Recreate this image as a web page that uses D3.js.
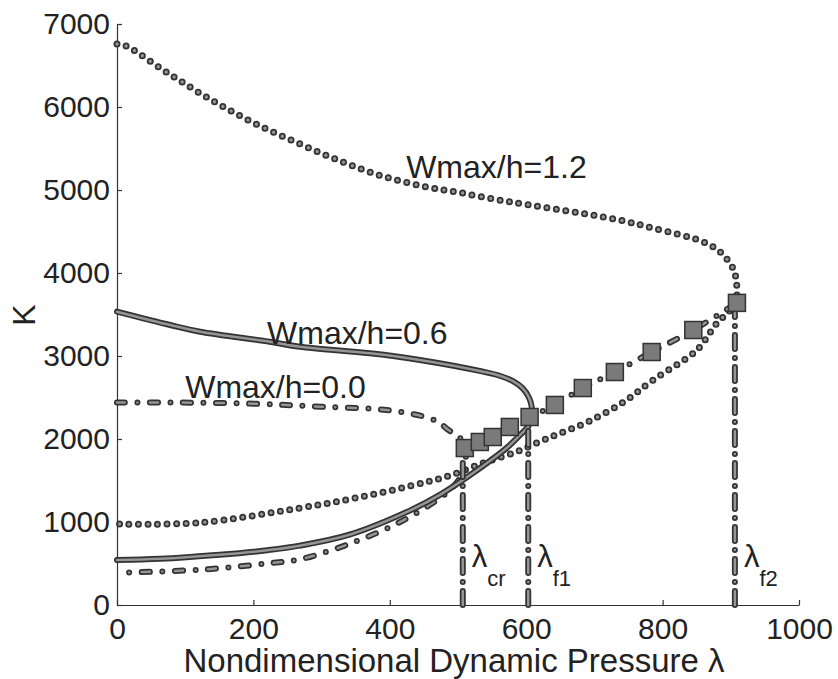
<!DOCTYPE html>
<html>
<head>
<meta charset="utf-8">
<script src="https://cdn.jsdelivr.net/npm/d3@7"></script>
<style>
  body { margin: 0; background: #fff; }
  text { font-family: "Liberation Sans", Arial, sans-serif; fill: #222; }
</style>
</head>
<body>
<svg id="chart"></svg>
<script>
const width = 838;
const height = 679;

// tick values
const xTicks = [0, 200, 400, 600, 800, 1000];
const yTicks = [0, 1000, 2000, 3000, 4000, 5000, 6000, 7000];

// Wmax/h = 1.2 (dotted)
const w12Upper = [[0, 6760], [12, 6740], [74, 6413], [136, 6096], [200, 5811], [266, 5563], [330, 5340],
  [390, 5165], [449, 5045], [498, 4976], [552, 4892], [605, 4819], [679, 4723], [737, 4638], [786, 4540],
  [859, 4377], [884, 4257], [903, 4060], [908, 3916], [909, 3700]];
const w12Lower = [[0, 975], [120, 992], [268, 1168], [350, 1290], [430, 1434], [488, 1560], [540, 1720],
  [586, 1847], [620, 1968], [650, 2070], [691, 2209], [740, 2430], [786, 2711], [850, 3070], [879, 3390],
  [898, 3540], [909, 3640]];

// Wmax/h = 0.6 (solid)
const w06Upper = [[0, 3534], [78, 3373], [122, 3293], [224, 3172], [268, 3112], [371, 3032], [444, 2952],
  [537, 2811], [560, 2765], [580, 2700], [595, 2610], [604, 2500], [608, 2390], [607, 2290]];
const w06Lower = [[0, 542], [63, 556], [150, 605], [220, 660], [268, 715], [342, 850], [430, 1140],
  [474, 1330], [522, 1590], [571, 1890], [596, 2090], [603, 2150]];

// Wmax/h = 0.0 (dash-dot)
const w00Upper = [[0, 2440], [78, 2440], [200, 2425], [298, 2389], [395, 2349], [459, 2249], [474, 2189],
  [486, 2108], [498, 2048], [510, 1948], [512, 1890]];
const w00Lower = [[0, 389], [122, 425], [220, 500], [268, 550], [342, 740], [415, 1000], [474, 1290],
  [490, 1400], [505, 1560], [510, 1700]];

// bifurcation points (squares)
const bifurcation = [[510, 1891], [532, 1964], [551, 2024], [576, 2145], [605, 2265], [642, 2410],
  [683, 2614], [730, 2807], [784, 3048], [845, 3313], [909, 3640]];

// critical pressures
const critNames = ["cr", "f1", "f2"];
const critLambda = [507, 603, 906];
const critTop = [1870, 2100, 3640];

// curve labels
const curveLabels = ["Wmax/h=1.2", "Wmax/h=0.6", "Wmax/h=0.0"];
const curveLabelPos = [[424, 5150], [220, 3150], [100, 2500]];

const svg = d3.select("#chart")
    .attr("width", width)
    .attr("height", height);

const x = d3.scaleLinear().domain([0, 1000]).range([117, 799]);
const y = d3.scaleLinear().domain([0, 7000]).range([605, 24]);

const line = d3.line()
    .x(d => x(d[0]))
    .y(d => y(d[1]))
    .curve(d3.curveCatmullRom.alpha(0.5));

// draws a line twice: dark outline then lighter core, like the scanned original
function drawStyled(data, dash, outerW, innerW) {
    const g = svg.append("g");
    g.append("path")
        .attr("d", line(data))
        .attr("fill", "none")
        .attr("stroke", "#333")
        .attr("stroke-width", outerW)
        .attr("stroke-linecap", "round")
        .attr("stroke-dasharray", dash);
    g.append("path")
        .attr("d", line(data))
        .attr("fill", "none")
        .attr("stroke", "#959595")
        .attr("stroke-width", innerW)
        .attr("stroke-linecap", "round")
        .attr("stroke-dasharray", dash);
}

// axes
const xAxis = svg.append("g")
    .attr("transform", `translate(0,${y(0)})`)
    .call(d3.axisBottom(x).tickValues(xTicks).tickSizeInner(-5).tickSizeOuter(0).tickFormat(d3.format("d")));
const yAxis = svg.append("g")
    .attr("transform", `translate(${x(0)},0)`)
    .call(d3.axisLeft(y).tickValues(yTicks).tickSizeInner(-5).tickSizeOuter(0).tickFormat(d3.format("d")));

[xAxis, yAxis].forEach(a => {
    a.select(".domain").attr("stroke", "#333").attr("stroke-width", 1.2);
    a.selectAll(".tick line").attr("stroke", "#333").attr("stroke-width", 1.2);
    a.selectAll(".tick text").attr("font-size", 30).attr("fill", "#222")
        .attr("font-family", "Liberation Sans, Arial, sans-serif");
});
xAxis.selectAll(".tick text").attr("y", 13);
yAxis.selectAll(".tick text").attr("x", -7);

// curves
drawStyled(w12Upper.concat(w12Lower.slice().reverse()), "0 9.5", 7, 3.5);
drawStyled(w00Upper.concat(w00Lower.slice().reverse()), "8 12.5 0 12.5", 6, 2.5);
drawStyled(w06Upper.concat(w06Lower.slice().reverse()), null, 6, 2.5);

// vertical critical lines
critLambda.forEach((l, i) => {
    drawStyled([[l, 0], [l, critTop[i]]], "14 9 0 9", 6, 2.5);
});

// bifurcation path with squares
drawStyled(bifurcation, "8 12.5 0 12.5", 6, 2.5);
svg.append("g").selectAll("rect")
    .data(bifurcation)
    .join("rect")
    .attr("x", d => x(d[0]) - 8.5)
    .attr("y", d => y(d[1]) - 8.5)
    .attr("width", 17)
    .attr("height", 17)
    .attr("fill", "#7a7a7a")
    .attr("stroke", "#333")
    .attr("stroke-width", 1.5);

// curve labels
svg.append("g").selectAll("text")
    .data(curveLabels)
    .join("text")
    .attr("x", (d, i) => x(curveLabelPos[i][0]))
    .attr("y", (d, i) => y(curveLabelPos[i][1]))
    .attr("font-size", 32)
    .text(d => d);

// lambda labels
critLambda.forEach((l, i) => {
    const t = svg.append("text")
        .attr("x", x(l) + 9)
        .attr("y", 567)
        .attr("font-size", 31);
    t.append("tspan").text("λ");
    t.append("tspan").attr("font-size", 22).attr("dy", 19).text(critNames[i]);
});

// axis titles
svg.append("text")
    .attr("x", (x(0) + x(1000)) / 2 - 4)
    .attr("y", 672)
    .attr("text-anchor", "middle")
    .attr("font-size", 33)
    .text("Nondimensional Dynamic Pressure λ");

svg.append("text")
    .attr("transform", "translate(24,315) rotate(-90)")
    .attr("text-anchor", "middle")
    .attr("dy", "0.35em")
    .attr("font-size", 32)
    .text("K");
</script>
</body>
</html>
